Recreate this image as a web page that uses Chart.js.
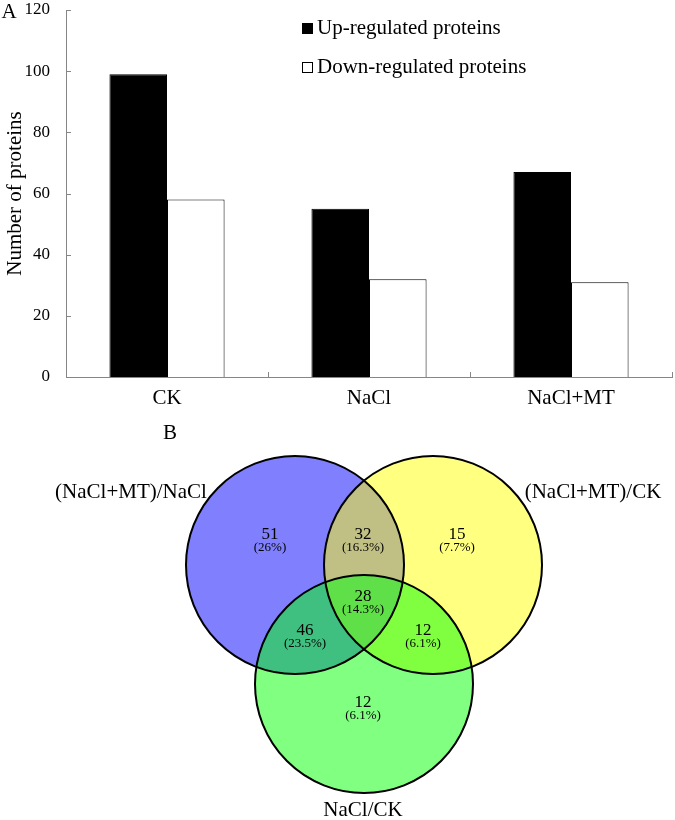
<!DOCTYPE html>
<html>
<head>
<meta charset="utf-8">
<script src="https://cdn.jsdelivr.net/npm/chart.js@4.4.1/dist/chart.umd.min.js"></script>
<style>
  body { margin: 0; background: #fff; }
  canvas { display: block; }
</style>
</head>
<body>
<canvas id="fig" width="675" height="820"></canvas>
<script>
// panel A data
var groups = ['CK', 'NaCl', 'NaCl+MT'];
var upRegulated = [99, 55, 67];
var downRegulated = [58, 32, 31];
var yTicks = [0, 20, 40, 60, 80, 100, 120];

// panel B data (regions: A only, B only, C only, AB, AC, BC, ABC)
var vennSets = ['(NaCl+MT)/NaCl', '(NaCl+MT)/CK', 'NaCl/CK'];
var vennCounts = [51, 15, 12, 32, 46, 12, 28];
var vennPercents = ['(26%)', '(7.7%)', '(6.1%)', '(16.3%)', '(23.5%)', '(6.1%)', '(14.3%)'];

var SERIF = "'Liberation Serif', 'Times New Roman', serif";
Chart.defaults.font.family = SERIF;
Chart.defaults.color = '#000';

// little ticks pointing into the plot, like the original
var innerTicks = {
  id: 'innerTicks',
  afterDraw: function(chart){
    var ctx = chart.ctx, x = chart.scales.x, y = chart.scales.y;
    ctx.save();
    ctx.strokeStyle = '#868686';
    ctx.lineWidth = 1;
    ctx.beginPath();
    y.ticks.forEach(function(t){
      var py = Math.round(y.getPixelForValue(t.value)) + 0.5;
      ctx.moveTo(x.left, py); ctx.lineTo(x.left + 5, py);
    });
    for (var i = 0; i <= groups.length; i++) {
      var px = Math.round(x.getPixelForValue(i - 0.5)) + 0.5;
      ctx.moveTo(px, y.bottom); ctx.lineTo(px, y.bottom - 5);
    }
    ctx.stroke();
    ctx.restore();
  }
};

// legend for panel A, drawn by hand
var boxLegend = {
  id: 'boxLegend',
  afterDraw: function(chart){
    var ctx = chart.ctx;
    var rows = [28, 67];
    ctx.save();
    ctx.font = '21px ' + SERIF;
    ctx.textBaseline = 'middle';
    chart.data.datasets.forEach(function(ds, i){
      ctx.fillStyle = ds.backgroundColor;
      ctx.fillRect(302.5, rows[i] - 5, 10, 10);
      ctx.strokeStyle = '#000';
      ctx.lineWidth = 1;
      ctx.strokeRect(302.5, rows[i] - 5 + 0.5, 10, 10);
      ctx.fillStyle = '#000';
      ctx.fillText(ds.label, 317, rows[i]);
    });
    ctx.textAlign = 'center';
    ctx.fillText('A', 9, 12);
    ctx.fillText('B', 170, 433);
    ctx.restore();
  }
};

// venn diagram for panel B
var venn = {
  id: 'venn',
  afterDraw: function(chart){
    var ctx = chart.ctx;
    var R = 109;
    var cA = {x: 295, y: 565}, cB = {x: 433, y: 565}, cC = {x: 364, y: 684};
    function circ(c){ ctx.beginPath(); ctx.arc(c.x, c.y, R, 0, Math.PI * 2); }
    function fillIn(clips, c, color){
      ctx.save();
      clips.forEach(function(k){ circ(k); ctx.clip(); });
      circ(c); ctx.fillStyle = color; ctx.fill();
      ctx.restore();
    }
    ctx.save();
    fillIn([], cA, '#8080ff');
    fillIn([], cB, '#ffff80');
    fillIn([], cC, '#80ff80');
    fillIn([cA], cB, '#c0c084');
    fillIn([cA], cC, '#40c080');
    fillIn([cB], cC, '#80ff40');
    fillIn([cA, cB], cC, '#60e048');
    ctx.strokeStyle = '#000';
    ctx.lineWidth = 2;
    [cA, cB, cC].forEach(function(c){ circ(c); ctx.stroke(); });

    var spots = [[270, 535], [457, 535], [363, 703], [363, 535], [305, 631], [423, 631], [363, 597]];
    ctx.fillStyle = '#000';
    ctx.textAlign = 'center';
    ctx.textBaseline = 'middle';
    vennCounts.forEach(function(n, i){
      ctx.font = '17px ' + SERIF;
      ctx.fillText(String(n), spots[i][0], spots[i][1]);
      ctx.font = '13px ' + SERIF;
      ctx.fillText(vennPercents[i], spots[i][0], spots[i][1] + 13);
    });
    ctx.font = '21px ' + SERIF;
    ctx.fillText(vennSets[0], 131, 492);
    ctx.fillText(vennSets[1], 593, 492);
    ctx.fillText(vennSets[2], 363, 810);
    ctx.restore();
  }
};

new Chart(document.getElementById('fig'), {
  type: 'bar',
  data: {
    labels: groups,
    datasets: [
      { label: 'Up-regulated proteins', data: upRegulated, backgroundColor: '#000000', borderColor: '#000', borderWidth: 1 },
      { label: 'Down-regulated proteins', data: downRegulated, backgroundColor: '#ffffff', borderColor: '#000', borderWidth: 1 }
    ]
  },
  options: {
    responsive: false,
    animation: false,
    devicePixelRatio: 1,
    layout: { padding: { top: 10, right: 3, left: 0, bottom: 0 }, autoPadding: false },
    plugins: { legend: { display: false }, tooltip: { enabled: false } },
    datasets: { bar: { barPercentage: 1.0, categoryPercentage: 0.57 } },
    scales: {
      x: {
        grid: { display: false, drawTicks: false },
        border: { color: '#868686', width: 1 },
        ticks: { font: { size: 21 }, padding: 9 },
        afterFit: function(s){ s.height = 443; s.paddingLeft = 0; s.paddingRight = 0; }
      },
      y: {
        min: 0, max: 120,
        afterBuildTicks: function(s){ s.ticks = yTicks.map(function(v){ return { value: v }; }); },
        grid: { display: false, drawTicks: false },
        border: { color: '#868686', width: 1 },
        ticks: { font: { size: 17 }, padding: 16 },
        title: { display: true, text: 'Number of proteins', font: { size: 21 }, padding: { top: 3, bottom: 0 } },
        afterFit: function(s){ s.width = 66; s.paddingTop = 0; s.paddingBottom = 0; }
      }
    }
  },
  plugins: [innerTicks, boxLegend, venn]
});
</script>
</body>
</html>
